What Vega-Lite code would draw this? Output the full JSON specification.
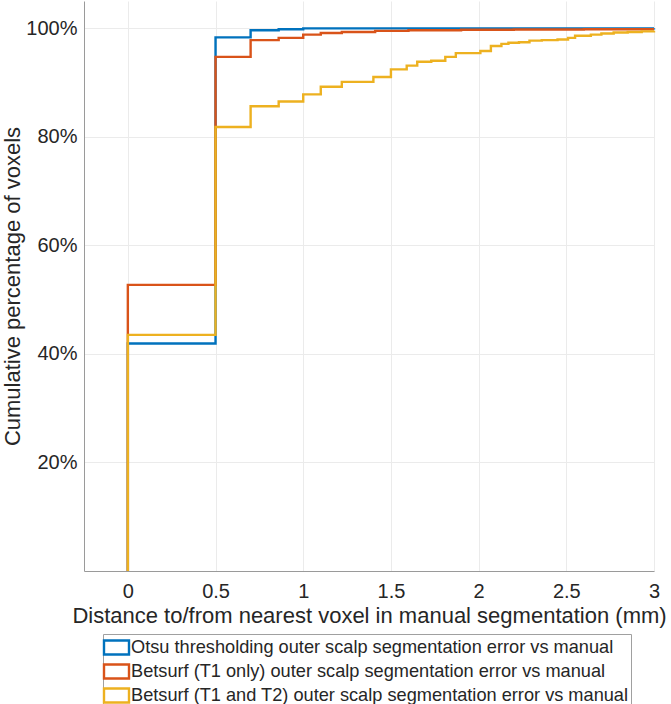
{
  "$schema": "https://vega.github.io/schema/vega-lite/v6.json",
  "autosize": {"type": "none"},
  "padding": {"left": 84, "top": 1, "right": 17, "bottom": 133},
  "width": 570,
  "height": 570,
  "background": "white",
  "config": {
    "font": "Liberation Sans",
    "view": {"stroke": null},
    "axis": {
      "labelFont": "Liberation Sans",
      "titleFont": "Liberation Sans",
      "labelColor": "#262626",
      "titleColor": "#262626",
      "titleFontWeight": "normal",
      "domainColor": "#9a9a9a",
      "gridColor": "#ebebeb",
      "gridWidth": 1,
      "tickColor": "#9a9a9a"
    }
  },
  "data": {
    "values": [
      {"s": "Otsu thresholding outer scalp segmentation error vs manual", "i": 0, "x": 0, "y": 0},
      {"s": "Otsu thresholding outer scalp segmentation error vs manual", "i": 1, "x": 0, "y": 0.419},
      {"s": "Otsu thresholding outer scalp segmentation error vs manual", "i": 2, "x": 0.5, "y": 0.983},
      {"s": "Otsu thresholding outer scalp segmentation error vs manual", "i": 3, "x": 0.7, "y": 0.996},
      {"s": "Otsu thresholding outer scalp segmentation error vs manual", "i": 4, "x": 0.86, "y": 0.998},
      {"s": "Otsu thresholding outer scalp segmentation error vs manual", "i": 5, "x": 1.0, "y": 0.9995},
      {"s": "Otsu thresholding outer scalp segmentation error vs manual", "i": 6, "x": 3, "y": 1.0},

      {"s": "Betsurf (T1 only) outer scalp segmentation error vs manual", "i": 0, "x": 0, "y": 0},
      {"s": "Betsurf (T1 only) outer scalp segmentation error vs manual", "i": 1, "x": 0, "y": 0.527},
      {"s": "Betsurf (T1 only) outer scalp segmentation error vs manual", "i": 2, "x": 0.5, "y": 0.947},
      {"s": "Betsurf (T1 only) outer scalp segmentation error vs manual", "i": 3, "x": 0.7, "y": 0.978},
      {"s": "Betsurf (T1 only) outer scalp segmentation error vs manual", "i": 4, "x": 0.86, "y": 0.982},
      {"s": "Betsurf (T1 only) outer scalp segmentation error vs manual", "i": 5, "x": 1.0, "y": 0.988},
      {"s": "Betsurf (T1 only) outer scalp segmentation error vs manual", "i": 6, "x": 1.1, "y": 0.991},
      {"s": "Betsurf (T1 only) outer scalp segmentation error vs manual", "i": 7, "x": 1.22, "y": 0.993},
      {"s": "Betsurf (T1 only) outer scalp segmentation error vs manual", "i": 8, "x": 1.41, "y": 0.995},
      {"s": "Betsurf (T1 only) outer scalp segmentation error vs manual", "i": 9, "x": 1.6, "y": 0.996},
      {"s": "Betsurf (T1 only) outer scalp segmentation error vs manual", "i": 10, "x": 1.9, "y": 0.997},
      {"s": "Betsurf (T1 only) outer scalp segmentation error vs manual", "i": 11, "x": 2.2, "y": 0.9975},
      {"s": "Betsurf (T1 only) outer scalp segmentation error vs manual", "i": 12, "x": 2.6, "y": 0.998},
      {"s": "Betsurf (T1 only) outer scalp segmentation error vs manual", "i": 13, "x": 3, "y": 0.998},

      {"s": "Betsurf (T1 and T2) outer scalp segmentation error vs manual", "i": 0, "x": 0, "y": 0},
      {"s": "Betsurf (T1 and T2) outer scalp segmentation error vs manual", "i": 1, "x": 0, "y": 0.435},
      {"s": "Betsurf (T1 and T2) outer scalp segmentation error vs manual", "i": 2, "x": 0.5, "y": 0.818},
      {"s": "Betsurf (T1 and T2) outer scalp segmentation error vs manual", "i": 3, "x": 0.7, "y": 0.856},
      {"s": "Betsurf (T1 and T2) outer scalp segmentation error vs manual", "i": 4, "x": 0.86, "y": 0.865},
      {"s": "Betsurf (T1 and T2) outer scalp segmentation error vs manual", "i": 5, "x": 1.0, "y": 0.878},
      {"s": "Betsurf (T1 and T2) outer scalp segmentation error vs manual", "i": 6, "x": 1.1, "y": 0.892},
      {"s": "Betsurf (T1 and T2) outer scalp segmentation error vs manual", "i": 7, "x": 1.22, "y": 0.901},
      {"s": "Betsurf (T1 and T2) outer scalp segmentation error vs manual", "i": 8, "x": 1.4, "y": 0.91},
      {"s": "Betsurf (T1 and T2) outer scalp segmentation error vs manual", "i": 9, "x": 1.5, "y": 0.924},
      {"s": "Betsurf (T1 and T2) outer scalp segmentation error vs manual", "i": 10, "x": 1.59, "y": 0.931},
      {"s": "Betsurf (T1 and T2) outer scalp segmentation error vs manual", "i": 11, "x": 1.65, "y": 0.938},
      {"s": "Betsurf (T1 and T2) outer scalp segmentation error vs manual", "i": 12, "x": 1.73, "y": 0.94},
      {"s": "Betsurf (T1 and T2) outer scalp segmentation error vs manual", "i": 13, "x": 1.81, "y": 0.947},
      {"s": "Betsurf (T1 and T2) outer scalp segmentation error vs manual", "i": 14, "x": 1.87, "y": 0.954},
      {"s": "Betsurf (T1 and T2) outer scalp segmentation error vs manual", "i": 15, "x": 2.01, "y": 0.958},
      {"s": "Betsurf (T1 and T2) outer scalp segmentation error vs manual", "i": 16, "x": 2.07, "y": 0.967},
      {"s": "Betsurf (T1 and T2) outer scalp segmentation error vs manual", "i": 17, "x": 2.13, "y": 0.971},
      {"s": "Betsurf (T1 and T2) outer scalp segmentation error vs manual", "i": 18, "x": 2.17, "y": 0.973},
      {"s": "Betsurf (T1 and T2) outer scalp segmentation error vs manual", "i": 19, "x": 2.23, "y": 0.974},
      {"s": "Betsurf (T1 and T2) outer scalp segmentation error vs manual", "i": 20, "x": 2.29, "y": 0.977},
      {"s": "Betsurf (T1 and T2) outer scalp segmentation error vs manual", "i": 21, "x": 2.36, "y": 0.978},
      {"s": "Betsurf (T1 and T2) outer scalp segmentation error vs manual", "i": 22, "x": 2.45, "y": 0.979},
      {"s": "Betsurf (T1 and T2) outer scalp segmentation error vs manual", "i": 23, "x": 2.51, "y": 0.982},
      {"s": "Betsurf (T1 and T2) outer scalp segmentation error vs manual", "i": 24, "x": 2.55, "y": 0.986},
      {"s": "Betsurf (T1 and T2) outer scalp segmentation error vs manual", "i": 25, "x": 2.64, "y": 0.988},
      {"s": "Betsurf (T1 and T2) outer scalp segmentation error vs manual", "i": 26, "x": 2.7, "y": 0.99},
      {"s": "Betsurf (T1 and T2) outer scalp segmentation error vs manual", "i": 27, "x": 2.77, "y": 0.992},
      {"s": "Betsurf (T1 and T2) outer scalp segmentation error vs manual", "i": 28, "x": 2.85, "y": 0.993},
      {"s": "Betsurf (T1 and T2) outer scalp segmentation error vs manual", "i": 29, "x": 2.93, "y": 0.994},
      {"s": "Betsurf (T1 and T2) outer scalp segmentation error vs manual", "i": 30, "x": 3, "y": 0.995}
    ]
  },
  "mark": {"type": "line", "interpolate": "step-after", "strokeWidth": 2.4, "clip": false},
  "encoding": {
    "x": {
      "field": "x",
      "type": "quantitative",
      "scale": {"domain": [-0.25, 3], "nice": false, "zero": false},
      "axis": {
        "values": [0, 0.5, 1, 1.5, 2, 2.5, 3],
        "labelExpr": "datum.value == 0 ? '0' : format(datum.value, '~g')",
        "title": "Distance to/from nearest voxel in manual segmentation (mm)",
        "labelFontSize": 20,
        "titleFontSize": 22,
        "ticks": false,
        "labelPadding": 10,
        "titlePadding": 4,
        "labelFlush": false
      }
    },
    "y": {
      "field": "y",
      "type": "quantitative",
      "scale": {"domain": [0, 1.05], "nice": false},
      "axis": {
        "values": [0.2, 0.4, 0.6, 0.8, 1.0],
        "format": ".0%",
        "title": "Cumulative percentage of voxels",
        "labelFontSize": 20,
        "titleFontSize": 22,
        "ticks": false,
        "labelPadding": 7,
        "titlePadding": 1,
        "labelFlush": false
      }
    },
    "color": {
      "field": "s",
      "type": "nominal",
      "sort": null,
      "scale": {
        "domain": [
          "Otsu thresholding outer scalp segmentation error vs manual",
          "Betsurf (T1 only) outer scalp segmentation error vs manual",
          "Betsurf (T1 and T2) outer scalp segmentation error vs manual"
        ],
        "range": ["#0072BD", "#D95319", "#EDB120"]
      },
      "legend": {
        "title": null,
        "orient": "none",
        "legendX": 19,
        "legendY": 633,
        "direction": "vertical",
        "symbolType": "M-1.25,-0.7L1.25,-0.7L1.25,0.7L-1.25,0.7Z",
        "symbolSize": 400,
        "symbolStrokeWidth": 2.4,
        "symbolFillColor": "white",
        "labelFontSize": 18.2,
        "labelFont": "Liberation Sans",
        "labelColor": "#262626",
        "labelLimit": 700,
        "labelOffset": 3,
        "rowPadding": -1.7,
        "padding": 2,
        "strokeColor": "#a0a0a0",
        "fillColor": "white"
      }
    },
    "order": {"field": "i", "type": "quantitative"}
  }
}
